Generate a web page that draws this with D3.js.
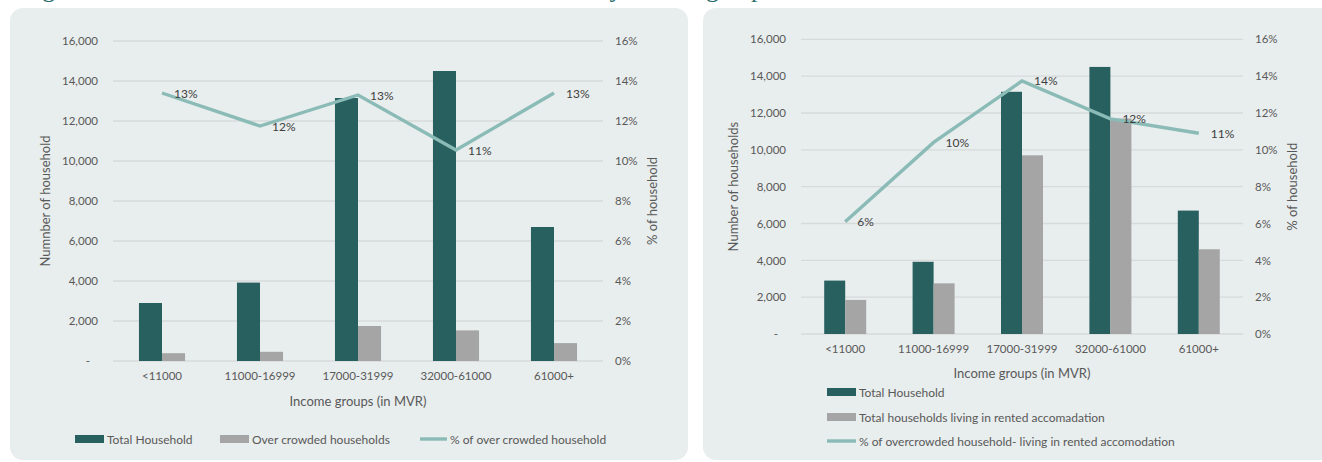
<!DOCTYPE html>
<html>
<head>
<meta charset="utf-8">
<script src="https://cdn.jsdelivr.net/npm/d3@7/dist/d3.min.js"></script>
<style>
  html, body { margin: 0; padding: 0; background: #ffffff; }
  svg { display: block; }
  text { font-family: Lato, "Open Sans", sans-serif; }
</style>
</head>
<body>
<svg id="chart" width="1322" height="462"></svg>
<script>
// Income groups shared by both charts
const categories = ["<11000", "11000-16999", "17000-31999", "32000-61000", "61000+"];

// Left chart: all households vs over-crowded households
const totalHouseholds = [2900, 3920, 13150, 14500, 6700];
const overcrowdedHouseholds = [390, 460, 1750, 1530, 895];
const overcrowdedShare = [0.134, 0.1175, 0.133, 0.1055, 0.134];

// Right chart: all households vs households in rented accommodation
const rentedHouseholds = [1850, 2750, 9700, 11700, 4600];
const rentedOvercrowdedShare = [0.061, 0.104, 0.1374, 0.1168, 0.109];

// Axis ticks
const countTicks = [0, 2000, 4000, 6000, 8000, 10000, 12000, 14000, 16000];
const shareTicks = [0, 0.02, 0.04, 0.06, 0.08, 0.10, 0.12, 0.14, 0.16];

const COLORS = {
  panel: "#e8eded",
  grid: "#d7dada",
  dark: "#286060",
  gray: "#a5a5a5",
  line: "#8abbb6",
  axisText: "#595959",
  label: "#404040",
  title: "#2c6c6c"
};

const svg = d3.select("#chart");

// Report title, mostly above the visible area
svg.append("text")
  .attr("x", 22)
  .attr("y", -3)
  .attr("textLength", 742)
  .attr("lengthAdjust", "spacing")
  .style("font-family", "'Liberation Serif', serif")
  .style("font-size", "26px")
  .attr("fill", COLORS.title)
  .text("Figure 4: Overcrowded households and rented households by income group");

const countFmt = d => d === 0 ? "-" : d3.format(",")(d);
const shareFmt = d3.format(".0%");

function drawPanel(cfg) {
  const g = svg.append("g");

  g.append("rect")
    .attr("x", cfg.panel[0]).attr("y", cfg.panel[1])
    .attr("width", cfg.panel[2]).attr("height", cfg.panel[3])
    .attr("rx", 13).attr("ry", 13)
    .attr("fill", COLORS.panel);

  const x = d3.scaleBand()
    .domain(categories)
    .range([cfg.left, cfg.right])
    .paddingInner(cfg.padInner)
    .paddingOuter(cfg.padInner / 2);

  const xSub = d3.scaleBand()
    .domain(["a", "b"])
    .range([0, x.bandwidth()]);

  const y = d3.scaleLinear().domain([0, 16000]).range([cfg.bottom, cfg.top]);
  const yPct = d3.scaleLinear().domain([0, 0.16]).range([cfg.bottom, cfg.top]);

  // Horizontal gridlines
  g.append("g").selectAll("line")
    .data(countTicks)
    .join("line")
    .attr("x1", cfg.left).attr("x2", cfg.right)
    .attr("y1", d => y(d)).attr("y2", d => y(d))
    .attr("stroke", COLORS.grid)
    .attr("stroke-width", 1.3);

  // Left count axis
  const yAxis = g.append("g")
    .attr("transform", `translate(${cfg.left - 15},0)`)
    .call(d3.axisLeft(y).tickValues(countTicks).tickFormat(countFmt).tickSize(0).tickPadding(0));
  yAxis.select(".domain").remove();
  yAxis.selectAll("text")
    .attr("fill", COLORS.axisText)
    .style("font-size", "11.5px")
    .attr("dx", d => d === 0 ? -8 : 0);

  // Right percent axis
  const yAxisR = g.append("g")
    .attr("transform", `translate(${cfg.right + 12},0)`)
    .call(d3.axisRight(yPct).tickValues(shareTicks).tickFormat(shareFmt).tickSize(0).tickPadding(0));
  yAxisR.select(".domain").remove();
  yAxisR.selectAll("text")
    .attr("fill", COLORS.axisText)
    .style("font-size", "11.5px");

  // Category axis
  const xAxis = g.append("g")
    .attr("transform", `translate(0,${cfg.bottom + 11})`)
    .call(d3.axisBottom(x).tickSize(0).tickPadding(0));
  xAxis.select(".domain").remove();
  xAxis.selectAll("text")
    .attr("fill", COLORS.axisText)
    .style("font-size", "11.5px");

  // Axis titles
  g.append("text")
    .attr("transform", `translate(${cfg.left - 68},${(cfg.top + cfg.bottom) / 2}) rotate(-90)`)
    .attr("text-anchor", "middle")
    .attr("dominant-baseline", "central")
    .attr("fill", COLORS.axisText)
    .style("font-size", "13px")
    .text(cfg.leftTitle);

  g.append("text")
    .attr("transform", `translate(${cfg.right + 49},${(cfg.top + cfg.bottom) / 2}) rotate(-90)`)
    .attr("text-anchor", "middle")
    .attr("dominant-baseline", "central")
    .attr("fill", COLORS.axisText)
    .style("font-size", "13px")
    .text("% of household");

  g.append("text")
    .attr("x", (cfg.left + cfg.right) / 2)
    .attr("y", cfg.bottom + cfg.xTitleOffset)
    .attr("text-anchor", "middle")
    .attr("dominant-baseline", "central")
    .attr("fill", COLORS.axisText)
    .style("font-size", "13px")
    .text("Income groups (in MVR)");

  // Bars
  const rows = categories.map((c, i) => ({ c, total: totalHouseholds[i], sub: cfg.subset[i], share: cfg.share[i] }));

  g.append("g").selectAll("rect")
    .data(rows)
    .join("rect")
    .attr("x", d => x(d.c) + xSub("a"))
    .attr("y", d => y(d.total))
    .attr("width", xSub.bandwidth())
    .attr("height", d => y(0) - y(d.total))
    .attr("fill", COLORS.dark);

  g.append("g").selectAll("rect")
    .data(rows)
    .join("rect")
    .attr("x", d => x(d.c) + xSub("b"))
    .attr("y", d => y(d.sub))
    .attr("width", xSub.bandwidth())
    .attr("height", d => y(0) - y(d.sub))
    .attr("fill", COLORS.gray);

  // Share line
  const cx = d => x(d.c) + x.bandwidth() / 2;
  g.append("path")
    .datum(rows)
    .attr("fill", "none")
    .attr("stroke", COLORS.line)
    .attr("stroke-width", 3.4)
    .attr("stroke-linejoin", "miter")
    .attr("d", d3.line().x(cx).y(d => yPct(d.share)));

  g.append("g").selectAll("text")
    .data(rows)
    .join("text")
    .attr("x", d => cx(d) + 12)
    .attr("y", d => yPct(d.share))
    .attr("dominant-baseline", "central")
    .attr("fill", COLORS.label)
    .style("font-size", "12px")
    .text(d => shareFmt(d.share));

  // Legend
  const leg = g.append("g");
  cfg.legend.forEach(item => {
    if (item.kind === "line") {
      leg.append("rect")
        .attr("x", item.x).attr("y", item.y - 1.7)
        .attr("width", item.w).attr("height", 3.4)
        .attr("fill", COLORS.line);
    } else {
      leg.append("rect")
        .attr("x", item.x).attr("y", item.y - 4)
        .attr("width", item.w).attr("height", 8)
        .attr("fill", item.kind === "dark" ? COLORS.dark : COLORS.gray);
    }
    leg.append("text")
      .attr("x", item.x + item.w + 3)
      .attr("y", item.y)
      .attr("dominant-baseline", "central")
      .attr("fill", COLORS.axisText)
      .style("font-size", "12px")
      .text(item.label);
  });
}

drawPanel({
  panel: [10, 8, 678, 452],
  left: 113, right: 603, top: 41, bottom: 361,
  padInner: 0.53,
  xTitleOffset: 40,
  leftTitle: "Numnber of household",
  subset: overcrowdedHouseholds,
  share: overcrowdedShare,
  legend: [
    { kind: "dark", x: 75, y: 439, w: 29, label: "Total Household" },
    { kind: "gray", x: 220, y: 439, w: 29, label: "Over crowded households" },
    { kind: "line", x: 420, y: 439, w: 27, label: "% of over crowded household" }
  ]
});

drawPanel({
  panel: [703, 8, 660, 452],
  left: 801, right: 1243, top: 39.3, bottom: 334,
  padInner: 0.525,
  xTitleOffset: 39,
  leftTitle: "Number of households",
  subset: rentedHouseholds,
  share: rentedOvercrowdedShare,
  legend: [
    { kind: "dark", x: 827, y: 392, w: 29, label: "Total Household" },
    { kind: "gray", x: 827, y: 417, w: 29, label: "Total households living in rented accomadation" },
    { kind: "line", x: 827, y: 441, w: 29, label: "% of overcrowded household- living in rented accomodation" }
  ]
});
</script>
</body>
</html>
